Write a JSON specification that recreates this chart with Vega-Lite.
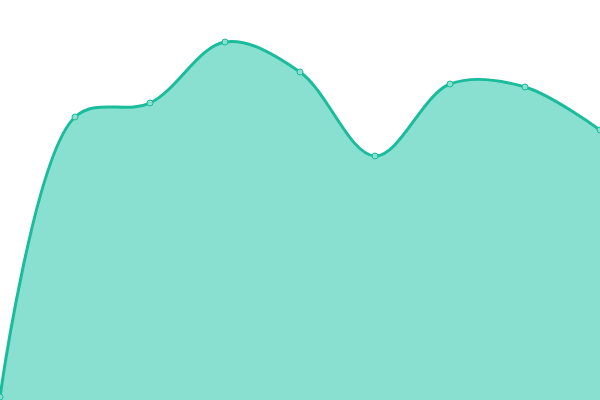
{
  "$schema": "https://vega.github.io/schema/vega-lite/v6.json",
  "width": 600,
  "height": 400,
  "autosize": {"type": "none"},
  "padding": 0,
  "config": {"view": {"stroke": null}},
  "data": {
    "values": [
      {"step": 0, "value": 3},
      {"step": 1, "value": 283},
      {"step": 2, "value": 297},
      {"step": 3, "value": 358},
      {"step": 4, "value": 328},
      {"step": 5, "value": 244},
      {"step": 6, "value": 316},
      {"step": 7, "value": 313},
      {"step": 8, "value": 270}
    ]
  },
  "encoding": {
    "x": {
      "field": "step",
      "type": "quantitative",
      "scale": {"domain": [0, 8], "nice": false, "zero": false},
      "axis": null
    },
    "y": {
      "field": "value",
      "type": "quantitative",
      "scale": {"domain": [0, 400], "nice": false},
      "axis": null
    }
  },
  "layer": [
    {
      "mark": {
        "type": "area",
        "interpolate": "catmull-rom",
        "color": "#89E0D0",
        "opacity": 1,
        "line": {"color": "#1ABC9C", "strokeWidth": 3}
      }
    },
    {
      "mark": {
        "type": "point",
        "filled": true,
        "size": 36,
        "fill": "#89E0D0",
        "stroke": "#1ABC9C",
        "strokeWidth": 1,
        "opacity": 1
      }
    }
  ]
}
